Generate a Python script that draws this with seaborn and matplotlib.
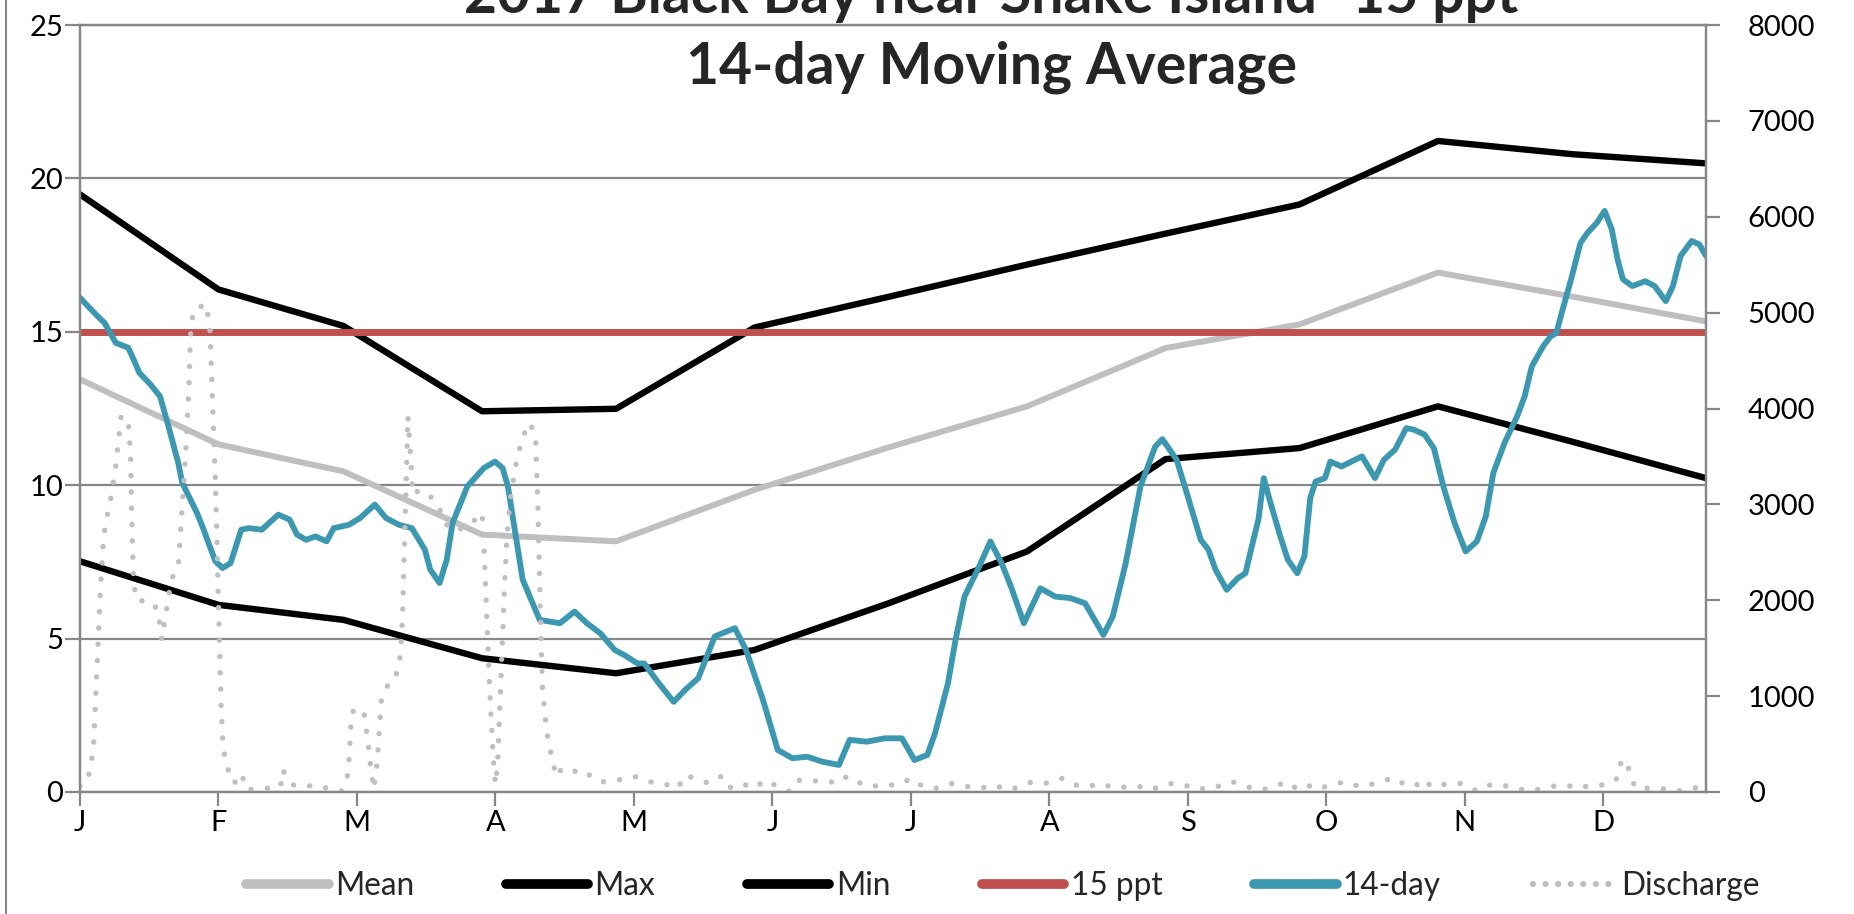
import matplotlib
matplotlib.use("Agg")
import matplotlib.pyplot as plt
from matplotlib.lines import Line2D
import numpy as np
import pandas as pd
import seaborn as sns

# Monthly salinity statistics (ppt), on the first day of each month plus year end
stat_days = [0, 31, 59, 90, 120, 151, 181, 212, 243, 273, 304, 334, 364]
mean_ppt = [13.45, 11.33, 10.45, 8.39, 8.17, 9.85, 11.23, 12.57, 14.47, 15.24, 16.93, 16.15, 15.34]
max_ppt = [19.48, 16.38, 15.19, 12.41, 12.49, 15.14, 16.14, 17.19, 18.20, 19.15, 21.22, 20.79, 20.49]
min_ppt = [7.52, 6.10, 5.61, 4.36, 3.87, 4.63, 6.15, 7.84, 10.85, 11.21, 12.57, 11.42, 10.23]
threshold_ppt = 15

# 14-day moving average salinity (ppt) by day of year
ma_days = [0, 2, 4, 5.5, 7, 8, 10.8, 12, 13.3, 15.8, 17.9, 19.6, 22, 22.9, 24.5, 26.2, 27.4,
           30.3, 31.9, 33.7, 36.1, 37.8, 40.7, 44.4, 46.9, 48.6, 50.6, 52.7, 55.2, 56.8, 60.2,
           62.7, 66, 68.5, 71.4, 74.3, 77.2, 78.4, 80.5, 82.1, 83.4, 86.7, 90.4, 92.9, 94.6,
           95.8, 97.1, 99.1, 102.9, 107.4, 110.7, 113.5, 116.5, 119.7, 122, 124.8, 126.3,
           129.6, 132.9, 135.5, 138.4, 142.1, 146.6, 149.1, 152.9, 156.2, 159.5, 162.8, 166.1,
           169.9, 172.3, 176.1, 180.2, 184, 186.8, 189.7, 191.4, 194.3, 196, 198, 201.3, 203.8,
           206.3, 208.4, 211.3, 215, 218.3, 221.7, 225, 229.1, 231.2, 234.1, 237.4, 240.7,
           242.3, 245.5, 248, 250.9, 252.6, 254.2, 256.7, 259.2, 260.9, 262.5, 263.8, 265,
           266.3, 268.7, 270.4, 272.5, 274.1, 275.4, 276.6, 278.7, 279.9, 282.4, 287, 289.9,
           291.9, 294.4, 296.9, 298.6, 301, 303.1, 305.2, 307.7, 310.2, 312.7, 314.7, 316.4,
           318.9, 321.7, 323.4, 325, 327.5, 329.2, 330.5, 331.7, 333.8, 335.9, 337.5, 339.6,
           341.3, 342.9, 344.2, 345.4, 347.5, 350.4, 352.5, 355, 356.6, 358.3, 360.8, 362.5, 364]
ma_ppt = [16.11, 15.8, 15.5, 15.29, 14.9, 14.64, 14.48, 14.1, 13.66, 13.28, 12.9, 12.03, 10.72,
          10.07, 9.6, 9.09, 8.66, 7.52, 7.30, 7.46, 8.55, 8.60, 8.55, 9.04, 8.88, 8.39, 8.22,
          8.33, 8.17, 8.60, 8.71, 8.93, 9.37, 8.93, 8.71, 8.60, 7.90, 7.25, 6.81, 7.57, 8.77,
          9.96, 10.56, 10.77, 10.56, 9.96, 8.77, 6.92, 5.61, 5.50, 5.88, 5.5, 5.17, 4.63, 4.45,
          4.19, 4.19, 3.54, 2.94, 3.33, 3.71, 5.07, 5.34, 4.63, 3.00, 1.37, 1.10, 1.15, 0.99,
          0.88, 1.70, 1.64, 1.75, 1.75, 1.04, 1.21, 1.91, 3.54, 4.96, 6.37, 7.35, 8.17, 7.46,
          6.70, 5.50, 6.64, 6.37, 6.32, 6.15, 5.12, 5.72, 7.46, 9.96, 11.26, 11.5, 10.83, 9.63,
          8.22, 7.90, 7.25, 6.59, 6.97, 7.13, 8.11, 8.88, 10.23, 9.53, 8.33, 7.57, 7.13, 7.68,
          9.58, 10.12, 10.23, 10.77, 10.61, 10.94, 10.23, 10.83, 11.16, 11.86, 11.81, 11.65,
          11.2, 9.96, 8.77, 7.84, 8.17, 8.98, 10.40, 11.38, 12.24, 12.89, 13.87, 14.52, 14.85,
          14.96, 15.62, 16.71, 17.90, 18.23, 18.56, 18.94, 18.34, 17.36, 16.71, 16.49, 16.65,
          16.49, 16.0, 16.49, 17.47, 17.96, 17.85, 17.47]

# River discharge (cfs) by day of year
q_days = [0, 1.7, 3, 3.8, 4.6, 5.3, 5.9, 6.7, 8, 9.2, 10, 10.8, 11.3, 11.6, 12, 12.9, 15.4,
          17.5, 18.3, 20, 20.8, 22, 23.7, 24.4, 24.7, 25.4, 28.3, 29.1, 30.3, 31.6, 32, 32.5,
          33.7, 34.5, 36.1, 37.4, 40.3, 42.4, 44.9, 45.3, 47.8, 50.2, 52.7, 56, 58.5, 59.8,
          60.2, 60.6, 61, 63.5, 64, 64.5, 65.2, 65.8, 66.5, 67.5, 69.5, 70.5, 71.4, 71.8, 72.2,
          72.6, 73, 73.4, 74, 74.5, 76, 78.8, 80.5, 81.7, 84.2, 87.5, 90, 90.5, 91, 91.5, 92,
          92.6, 93, 93.5, 94, 94.5, 95, 95.5, 96.3, 97.5, 99, 100.8, 102, 102.5, 103, 103.5,
          104.3, 104.9, 105.8, 106.6, 107.9, 110.4, 112.5, 114, 116.1, 118.9, 122.2, 124.3,
          127.2, 130.5, 133.8, 135.5, 138.4, 140.9, 143.4, 145.1, 148, 150.9, 153.4, 156.2,
          158.7, 160.4, 163.3, 166.2, 169.6, 171.6, 172.9, 175, 176.7, 180, 182.9, 186.2,
          188.7, 192.1, 195.4, 198.7, 201.6, 204.5, 207.8, 210.7, 213.2, 216.6, 219.9, 222.8,
          225.7, 228.6, 231.5, 234.4, 237.3, 239.8, 242.3, 244.8, 247.2, 250.5, 252.5, 254.6,
          257.9, 261.2, 264.1, 266.6, 270, 272.9, 275.8, 277.4, 280.3, 283.2, 286.5, 290.3,
          293.6, 295.2, 298.6, 300.6, 302.7, 306, 309.3, 312.7, 315.6, 318.5, 321, 323.4,
          325.9, 328.8, 332.6, 335.5, 338.4, 341.7, 344.2, 345, 346.2, 347.1, 348.3, 351.2,
          353.7, 356.2, 359.5, 362.4, 363.7]
q_cfs = [60, 110, 440, 1300, 2140, 2670, 2840, 3010, 3400, 3920, 3900, 3880, 3540, 2840, 2160,
         1990, 2000, 1900, 1590, 2090, 2250, 2350, 3570, 4230, 4750, 5030, 5090, 4810, 3260,
         860, 510, 330, 160, 90, 195, 20, 39, 39, 56, 230, 73, 56, 73, 30, 10, 143, 320, 665,
         840, 860, 680, 510, 200, 30, 300, 980, 1170, 1190, 1310, 1480, 1830, 2500, 3200, 3920,
         3500, 3100, 3150, 3070, 2950, 2800, 2720, 2800, 2910, 2500, 1900, 1300, 800, 300, 80,
         300, 900, 1500, 2100, 2600, 3050, 3400, 3700, 3850, 3680, 3000, 2000, 1100, 700, 510,
         330, 160, 247, 230, 160, 178, 108, 108, 143, 160, 108, 91, 39, 178, 125, 91, 160, 39,
         91, 39, 125, 56, 10, 125, 108, 125, 91, 160, 108, 91, 56, 73, 73, 143, 56, 39, 91, 56,
         39, 73, 21, 56, 108, 91, 143, 73, 56, 91, 39, 56, 56, 21, 73, 91, 73, 21, 56, 56, 108,
         56, 21, 39, 108, 21, 73, 39, 73, 108, 56, 91, 143, 91, 108, 21, 108, 73, 91, 10, 73,
         73, 39, 21, 21, 56, 73, 39, 73, 73, 143, 317, 334, 160, 39, 39, 39, 21, 10, 56, 73]

month_letters = ["J", "F", "M", "A", "M", "J", "J", "A", "S", "O", "N", "D"]
tick_days = [31 * i for i in range(12)]

title_line1 = "2017 Black Bay near Snake Island -15 ppt"
title_line2 = "14-day Moving Average"

stats = pd.DataFrame({"day": stat_days, "Mean": mean_ppt, "Max": max_ppt, "Min": min_ppt})
ma = pd.DataFrame({"day": ma_days, "ppt": ma_ppt})
flow = pd.DataFrame({"day": q_days, "cfs": q_cfs})

sns.set_theme(style="white")
plt.rcParams["font.family"] = ["Lato", "DejaVu Sans"]

GRID = "#878787"
TEAL = "#3C98B1"
RED = "#C0504D"
LIGHT = "#BFBFBF"

W, H = 1854, 914
fig = plt.figure(figsize=(W / 100, H / 100), dpi=100)
ax = fig.add_axes([80 / W, 1 - 792 / H, (1706 - 80) / W, (792 - 25) / H])
ax2 = ax.twinx()

sns.lineplot(data=stats, x="day", y="Mean", ax=ax, color=LIGHT, lw=4.3, legend=False)
sns.lineplot(data=stats, x="day", y="Max", ax=ax, color="black", lw=4.6, legend=False)
sns.lineplot(data=stats, x="day", y="Min", ax=ax, color="black", lw=4.6, legend=False)
ax.axhline(threshold_ppt, color=RED, lw=5.0, zorder=2.5)
sns.lineplot(data=ma, x="day", y="ppt", ax=ax, color=TEAL, lw=4.2, legend=False, zorder=3)

sns.lineplot(data=flow, x="day", y="cfs", ax=ax2, color=LIGHT, lw=3.9, legend=False)
for ln in ax2.get_lines():
    ln.set_linestyle((0, (0.01, 3.0)))
    ln.set_dash_capstyle("round")
    ln.set_solid_capstyle("round")

ax.set_xlim(0, 364)
ax.set_ylim(0, 25)
ax2.set_ylim(0, 8000)
ax.set_xlabel("")
ax.set_ylabel("")
ax2.set_ylabel("")

ax.set_xticks(tick_days)
ax.set_xticklabels(month_letters)
ax.set_yticks(range(0, 26, 5))
ax2.set_yticks(range(0, 8001, 1000))

ax.yaxis.grid(True, color=GRID, lw=1.6)
ax.xaxis.grid(False)
ax2.grid(False)
ax.set_axisbelow(True)

for a in (ax, ax2):
    for side in ("left", "right", "bottom", "top"):
        a.spines[side].set_color(GRID)
        a.spines[side].set_linewidth(1.6)

ax.tick_params(axis="x", direction="out", length=10, width=1.6, color=GRID,
               pad=3, labelsize=21, labelcolor="black", bottom=True)
ax.tick_params(axis="y", direction="out", length=11, width=1.6, color=GRID,
               pad=1, labelsize=21, labelcolor="black", left=True)
ax2.tick_params(axis="y", direction="out", length=10, width=1.6, color=GRID,
                pad=20, labelsize=21, labelcolor="black", right=True)

fig.text(991 / W, 1 - 13 / H, title_line1, ha="center", va="baseline",
         fontsize=41, fontweight="bold")
fig.text(991 / W, 1 - 83 / H, title_line2, ha="center", va="baseline",
         fontsize=41, fontweight="bold")

# Chart-area border on the left edge
fig.add_artist(Line2D([6 / W, 6 / W], [0, 1], color=GRID, lw=1.5, transform=fig.transFigure))

handles = [
    Line2D([], [], color=LIGHT, lw=7, solid_capstyle="round"),
    Line2D([], [], color="black", lw=7, solid_capstyle="round"),
    Line2D([], [], color="black", lw=7, solid_capstyle="round"),
    Line2D([], [], color=RED, lw=7, solid_capstyle="round"),
    Line2D([], [], color=TEAL, lw=7, solid_capstyle="round"),
    Line2D([], [], color=LIGHT, lw=4.5, linestyle=(0, (0.01, 2.0)), dash_capstyle="round"),
]
labels = ["Mean", "Max", "Min", "15 ppt", "14-day", "Discharge"]
fig.legend(handles, labels, loc="center", bbox_to_anchor=(1003 / W, 1 - 886 / H), ncol=6,
           frameon=False, fontsize=22.8, handlelength=2.6, handletextpad=0.2,
           columnspacing=2.9)

fig.savefig("out.png", dpi=100)
